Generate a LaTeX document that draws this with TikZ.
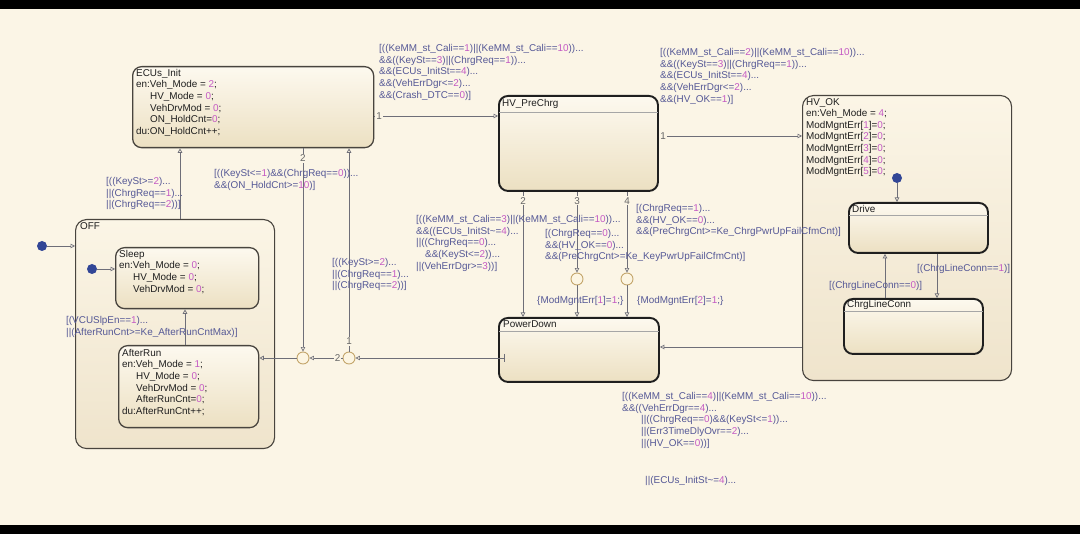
\documentclass[tikz,border=0pt]{standalone}
\usepackage{fontspec}
\setmainfont{Liberation Sans}
\usetikzlibrary{arrows.meta}
\definecolor{bg}{RGB}{251,245,230}
\definecolor{trc}{RGB}{85,88,150}
\definecolor{numc}{RGB}{196,90,196}
\definecolor{linec}{RGB}{110,110,120}
\definecolor{jfill}{RGB}{252,245,226}
\definecolor{jdraw}{RGB}{196,166,108}
\definecolor{dotc}{RGB}{50,70,150}
\definecolor{sttop}{RGB}{253,249,239}
\definecolor{stbot}{RGB}{236,224,194}
\definecolor{ptop}{RGB}{251,245,230}
\definecolor{pbot}{RGB}{239,228,204}
\definecolor{bordA}{RGB}{72,68,62}
\newcommand{\nm}[1]{\textcolor{numc}{#1}}
\newcommand{\ind}{\hspace*{14pt}}
\tikzset{
  stA/.style={draw=bordA, line width=1.3pt, rounded corners=9pt, top color=sttop, bottom color=stbot, anchor=north west, inner sep=0pt},
  stB/.style={draw=black!88, line width=1.9pt, rounded corners=9pt, top color=sttop, bottom color=stbot, anchor=north west, inner sep=0pt},
  stP/.style={draw=bordA, line width=1.1pt, rounded corners=11pt, top color=ptop, bottom color=pbot, anchor=north west, inner sep=0pt},
  txt/.style={anchor=north west, inner sep=0pt, align=left, font=\fontsize{9.9}{11.6}\selectfont, text=black!88},
  lbl/.style={anchor=north west, inner sep=0pt, align=left, font=\fontsize{9.9}{11.8}\selectfont, text=trc},
  num/.style={inner sep=1pt, font=\fontsize{9.9}{11}\selectfont, text=black!60, fill=bg},
  tr/.style={draw=linec, line width=0.7pt, -{Triangle[open,length=4.5pt,width=4.5pt]}},
  junc/.style={circle, draw=jdraw, fill=jfill, line width=0.9pt, minimum size=12pt, inner sep=0pt},
  ddot/.style={circle, fill=dotc, minimum size=10pt, inner sep=0pt},
  hdr/.style={draw=black!35, line width=0.5pt},
}
\begin{document}
\begin{tikzpicture}[x=1pt,y=-1pt]
\useasboundingbox (0,0) rectangle (1080,534);
\fill[bg] (0,0) rectangle (1080,534);
\fill[black] (0,0) rectangle (1080,9);
\fill[black] (0,525) rectangle (1080,534);

% parent states
\node[stP, minimum width=199pt, minimum height=229pt] (off) at (75,219) {};
\node[stP, minimum width=209pt, minimum height=285pt] (hvok) at (802,95) {};
% states
\node[stA, minimum width=241pt, minimum height=81pt] (ecu) at (132,66) {};
\node[stA, minimum width=143pt, minimum height=61pt] (sleep) at (115,247) {};
\node[stA, minimum width=140pt, minimum height=82pt] (ar) at (118,345) {};
\node[stB, minimum width=159pt, minimum height=95pt] (pre) at (498,95) {};
\node[stB, minimum width=160pt, minimum height=64pt] (pd) at (498,317) {};
\node[stB, minimum width=139pt, minimum height=50pt] (drive) at (848,202) {};
\node[stB, minimum width=139pt, minimum height=55pt] (clc) at (843,298) {};

% header lines
\draw[hdr] ([xshift=1pt]pre.west |- 0,112) -- ([xshift=-1pt]pre.east |- 0,112);
\draw[hdr] ([xshift=1pt]pd.west |- 0,331) -- ([xshift=-1pt]pd.east |- 0,331);
\draw[hdr] ([xshift=1pt]drive.west |- 0,215) -- ([xshift=-1pt]drive.east |- 0,215);
\draw[hdr] ([xshift=1pt]clc.west |- 0,311) -- ([xshift=-1pt]clc.east |- 0,311);

% state texts
\node[txt] (ecu-t) at (136,69) {ECUs\_Init\\en:Veh\_Mode = \nm{2};\\\ind HV\_Mode = \nm{0};\\\ind VehDrvMod = \nm{0};\\\ind ON\_HoldCnt=\nm{0};\\du:ON\_HoldCnt++;};
\node[txt] (off-t) at (80,222) {OFF};
\node[txt] (sleep-t) at (119,250) {Sleep\\en:Veh\_Mode = \nm{0};\\\ind HV\_Mode = \nm{0};\\\ind VehDrvMod = \nm{0};};
\node[txt] (ar-t) at (122,349) {AfterRun\\en:Veh\_Mode = \nm{1};\\\ind HV\_Mode = \nm{0};\\\ind VehDrvMod = \nm{0};\\\ind AfterRunCnt=\nm{0};\\du:AfterRunCnt++;};
\node[txt] (pre-t) at (502,99) {HV\_PreChrg};
\node[txt] (pd-t) at (503,320) {PowerDown};
\node[txt] (hvok-t) at (806,98) {HV\_OK\\en:Veh\_Mode = \nm{4};\\ModMgntErr[\nm{1}]=\nm{0};\\ModMgntErr[\nm{2}]=\nm{0};\\ModMgntErr[\nm{3}]=\nm{0};\\ModMgntErr[\nm{4}]=\nm{0};\\ModMgntErr[\nm{5}]=\nm{0};};
\node[txt] (drive-t) at (852,205) {Drive};
\node[txt] (clc-t) at (847,300) {ChrgLineConn};

% junctions and default dots
\node[junc] (j1) at (303,358) {};
\node[junc] (j2) at (349,358) {};
\node[junc] (j3) at (577,279) {};
\node[junc] (j4) at (627,279) {};
\node[ddot] (d1) at (42,246) {};
\node[ddot] (d2) at (92,269) {};
\node[ddot] (d3) at (897,178) {};

% default transitions
\draw[tr] (d1) -- (off.west |- d1);
\draw[tr] (d2) -- (sleep.west |- d2);
\draw[tr] (d3) -- (drive.north -| d3);

% transitions
\draw[tr] (ecu.east |- 0,116) -- node[num, pos=0.04] {1} (pre.west |- 0,116);
\draw[tr] (pre.east |- 0,136) -- node[num, pos=0.03] {1} (hvok.west |- 0,136);
\draw[tr] (off.north -| 180,0) -- (ecu.south -| 180,0);
\draw[tr] (ecu.south -| j1.north) -- node[num, pos=0.05] {2} (j1.north);
\draw[tr] (j2.north) -- node[num, pos=0.05] {1} (ecu.south -| j2.north);
\draw[tr] (j2.west) -- node[num, pos=0.15] {2} (j1.east);
\draw[tr] (j1.west) -- (ar.east |- j1.west);
\draw[{Bar[width=8pt]}-{Triangle[open,length=4.5pt,width=4.5pt]}, draw=linec, line width=0.7pt] ([xshift=7pt]pd.west |- j2.east) -- (j2.east);
\draw[tr] (ar.north -| 185,0) -- (sleep.south -| 185,0);
\draw[tr] (pre.south -| 523,0) -- node[num, pos=0.07] {2} (pd.north -| 523,0);
\draw[tr] (pre.south -| j3.north) -- node[num, pos=0.11] {3} (j3.north);
\draw[tr] (j3.south) -- (pd.north -| j3.south);
\draw[tr] (pre.south -| j4.north) -- node[num, pos=0.11] {4} (j4.north);
\draw[tr] (j4.south) -- (pd.north -| j4.south);
\draw[tr] (hvok.west |- 0,347) -- (pd.east |- 0,347);
\draw[tr] (drive.south -| 937,0) -- (clc.north -| 937,0);
\draw[tr] (clc.north -| 885,0) -- (drive.south -| 885,0);

% transition labels
\node[lbl] (t1) at (379,44) {[((KeMM\_st\_Cali==\nm{1})||(KeMM\_st\_Cali==\nm{10}))...\\\&\&((KeySt==\nm{3})||(ChrgReq==\nm{1}))...\\\&\&(ECUs\_InitSt==\nm{4})...\\\&\&(VehErrDgr<=\nm{2})...\\\&\&(Crash\_DTC==\nm{0})]};
\node[lbl] (t2) at (660,48) {[((KeMM\_st\_Cali==\nm{2})||(KeMM\_st\_Cali==\nm{10}))...\\\&\&((KeySt==\nm{3})||(ChrgReq==\nm{1}))...\\\&\&(ECUs\_InitSt==\nm{4})...\\\&\&(VehErrDgr<=\nm{2})...\\\&\&(HV\_OK==\nm{1})]};
\node[lbl] (toff) at (106,177) {[((KeySt>=\nm{2})...\\||(ChrgReq==\nm{1})...\\||(ChrgReq==\nm{2}))]};
\node[lbl] (tej) at (214,169) {[((KeySt<=\nm{1})\&\&(ChrgReq==\nm{0}))...\\\&\&(ON\_HoldCnt>=\nm{10})]};
\node[lbl] (tje) at (332,258) {[((KeySt>=\nm{2})...\\||(ChrgReq==\nm{1})...\\||(ChrgReq==\nm{2}))]};
\node[lbl] (tpd2) at (416,215) {[((KeMM\_st\_Cali==\nm{3})||(KeMM\_st\_Cali==\nm{10}))...\\\&\&((ECUs\_InitSt\textasciitilde=\nm{4})...\\||((ChrgReq==\nm{0})...\\\hspace*{9pt}\&\&(KeySt<=\nm{2}))...\\||(VehErrDgr>=\nm{3}))]};
\node[lbl] (tpd3) at (545,229) {[(ChrgReq==\nm{0})...\\\&\&(HV\_OK==\nm{0})...\\\&\&(PreChrgCnt>=Ke\_KeyPwrUpFailCfmCnt)]};
\node[lbl] (tpd4) at (636,204) {[(ChrgReq==\nm{1})...\\\&\&(HV\_OK==\nm{0})...\\\&\&(PreChrgCnt>=Ke\_ChrgPwrUpFailCfmCnt)]};
\node[lbl] (a3) at (537,296) {\{ModMgntErr[\nm{1}]=\nm{1};\}};
\node[lbl] (a4) at (637,296) {\{ModMgntErr[\nm{2}]=\nm{1};\}};
\node[lbl] (tar) at (66,316) {[(VCUSlpEn==\nm{1})...\\||(AfterRunCnt>=Ke\_AfterRunCntMax)]};
\node[lbl] (thv) at (622,392) {[((KeMM\_st\_Cali==\nm{4})||(KeMM\_st\_Cali==\nm{10}))...\\\&\&((VehErrDgr==\nm{4})...\\\hspace*{19pt}||((ChrgReq==\nm{0})\&\&(KeySt<=\nm{1}))...\\\hspace*{19pt}||(Err3TimeDlyOvr==\nm{2})...\\\hspace*{19pt}||(HV\_OK==\nm{0}))]};
\node[lbl] (thv2) at (645,476) {||(ECUs\_InitSt\textasciitilde=\nm{4})...};
\node[lbl] (tdc) at (917,264) {[(ChrgLineConn==\nm{1})]};
\node[lbl] (tcd) at (829,281) {[(ChrgLineConn==\nm{0})]};
\end{tikzpicture}
\end{document}
